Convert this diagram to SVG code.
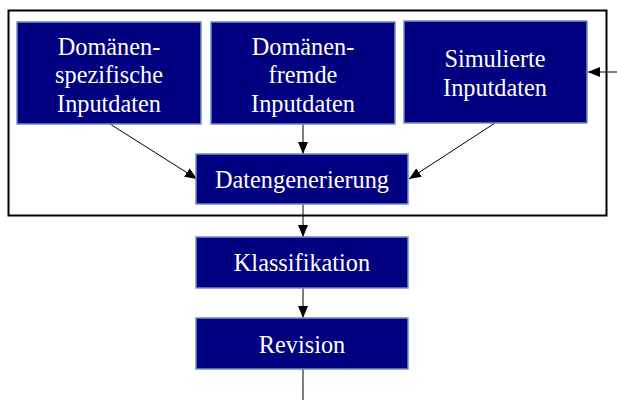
<svg xmlns="http://www.w3.org/2000/svg" width="617" height="400" viewBox="0 0 617 400">
<style>
.box{fill:#000080;stroke:#6f8fc0;stroke-width:1.5}
.t{font-family:"Liberation Serif","Times New Roman",serif;font-size:24.3px;fill:#fff;text-anchor:middle}
.c{stroke:#000;stroke-width:1;fill:none}
</style>
<defs>
<marker id="a" viewBox="0 0 12 10" refX="12" refY="5" markerWidth="12" markerHeight="10" markerUnits="userSpaceOnUse" orient="auto">
<path d="M0,0 L12,5 L0,10 z" fill="#000"/>
</marker>
</defs>
<rect x="8.5" y="10.5" width="598" height="205" fill="#fff" stroke="#000" stroke-width="2"/>
<g id="connectors">
<line class="c" x1="110" y1="124" x2="197" y2="179" marker-end="url(#a)"/>
<line class="c" x1="303" y1="124" x2="303" y2="154" marker-end="url(#a)"/>
<line class="c" x1="495" y1="123" x2="409" y2="179" marker-end="url(#a)"/>
<line class="c" x1="617" y1="72" x2="588" y2="72" marker-end="url(#a)"/>
<line class="c" x1="303" y1="204" x2="303" y2="237" marker-end="url(#a)"/>
<line class="c" x1="303" y1="288" x2="303" y2="318" marker-end="url(#a)"/>
<line class="c" x1="303" y1="369" x2="303" y2="400"/>
</g>
<g id="n1"><rect class="box" x="17" y="22" width="184" height="102"/>
<text class="t" x="109" y="55">Domänen-</text><text class="t" x="109" y="83">spezifische</text><text class="t" x="109" y="112">Inputdaten</text></g>
<g id="n2"><rect class="box" x="211" y="22" width="184" height="102"/>
<text class="t" x="303" y="55">Domänen-</text><text class="t" x="303" y="83">fremde</text><text class="t" x="303" y="112">Inputdaten</text></g>
<g id="n3"><rect class="box" x="404" y="21" width="183" height="102"/>
<text class="t" x="495" y="67">Simulierte</text><text class="t" x="495" y="96">Inputdaten</text></g>
<g id="n4"><rect class="box" x="196" y="154" width="212" height="50"/>
<text class="t" x="302" y="188">Datengenerierung</text></g>
<g id="n5"><rect class="box" x="196" y="237" width="212" height="51"/>
<text class="t" x="302" y="271">Klassifikation</text></g>
<g id="n6"><rect class="box" x="196" y="318" width="212" height="51"/>
<text class="t" x="302" y="353">Revision</text></g>
</svg>
